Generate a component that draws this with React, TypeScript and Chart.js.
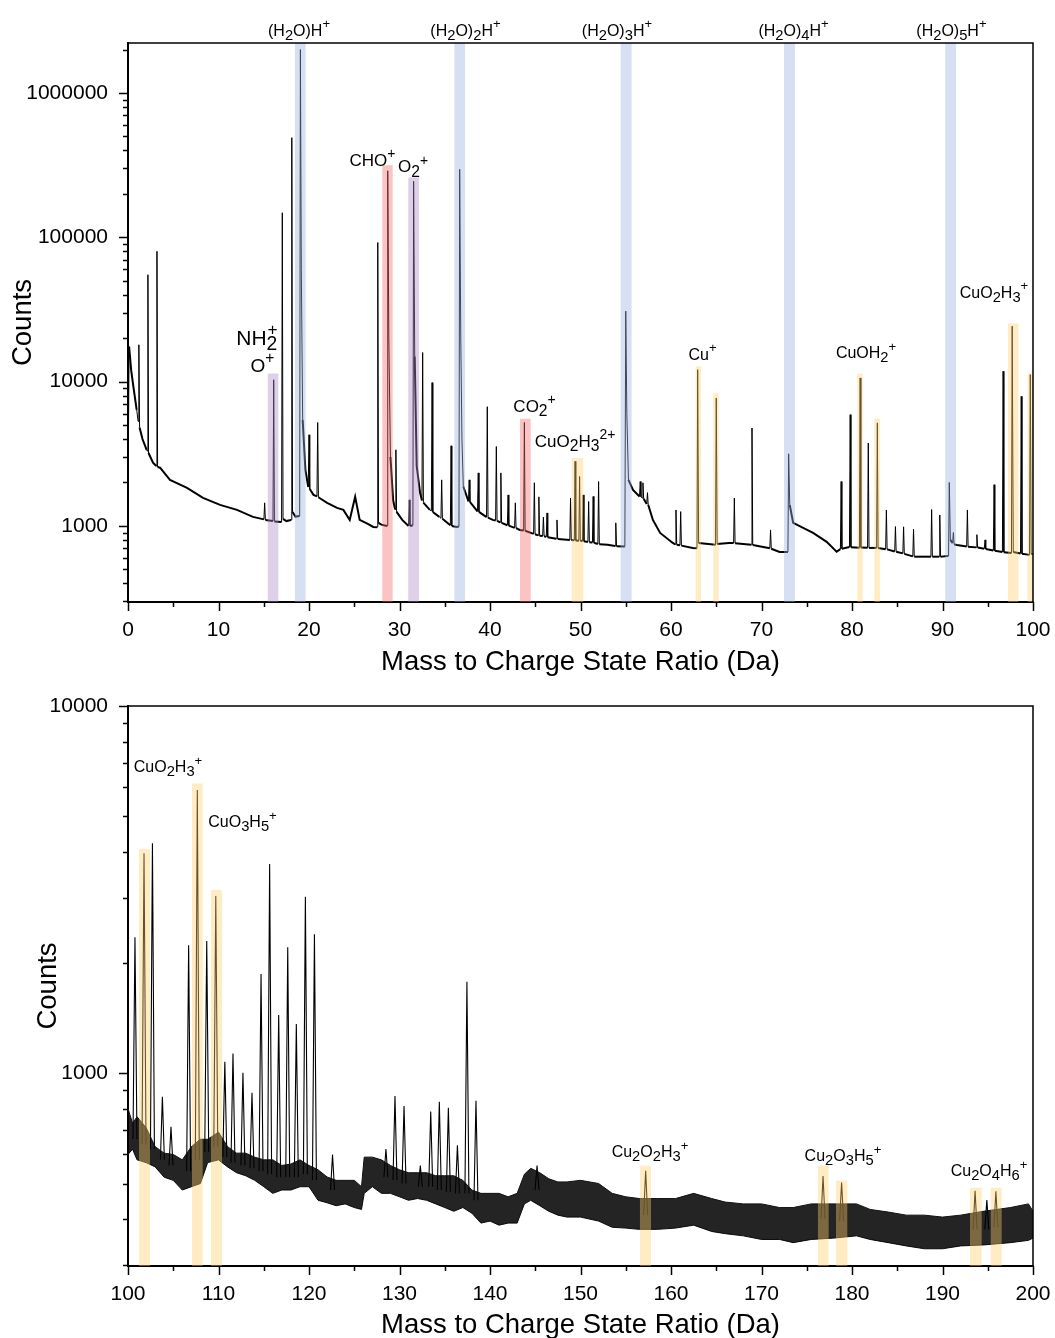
import React, { useEffect, useRef } from 'react';
import { Chart, registerables } from 'chart.js';

Chart.register(...registerables);

const FONT = "'Liberation Sans', Arial, Helvetica, sans-serif";
Chart.defaults.font.family = FONT;
Chart.defaults.color = '#000';

// ---------------- DATA ----------------
// Upper spectrum 0-100 Da: [m/z, counts]
const topSpectrum: [number, number][] = [
  [0.0, 1450], [0.12, 17500], [0.35, 12000], [0.59, 9270], [0.96, 6380],
  [1.12, 5300], [1.2, 18000], [1.28, 4800], [1.6, 4000], [2.06, 3370],
  [2.13, 3300], [2.2, 55000], [2.27, 3200], [2.76, 2740], [3.13, 2600],
  [3.2, 80000], [3.27, 2560], [3.54, 2530], [4.64, 2085], [6.52, 1835],
  [8.29, 1564], [10.17, 1399], [12.04, 1291], [13.81, 1155], [15.02, 1110],
  [15.1, 1445], [15.18, 1100], [16.02, 1080], [16.1, 10300], [16.18, 1075],
  [16.97, 1066], [17.05, 148000], [17.13, 1120], [17.5, 1080], [18.02, 1100],
  [18.1, 490000], [18.18, 1250], [18.5, 1160], [18.97, 1170], [19.05, 2000000],
  [19.15, 60000], [19.3, 5440], [19.6, 2448], [19.92, 1860], [20.0, 4280],
  [20.08, 1800], [20.5, 1640], [20.88, 1600], [20.96, 5210], [21.04, 1580],
  [22.0, 1445], [23.1, 1333], [23.8, 1291], [24.5, 1100], [25.1, 1590],
  [25.6, 1100], [26.5, 1033], [27.1, 984], [27.52, 980], [27.6, 92000],
  [27.68, 1050], [28.0, 1020], [28.62, 1000], [28.7, 289000], [28.82, 20000],
  [29.0, 3000], [29.3, 1500], [29.52, 1300], [29.6, 3370], [29.68, 1250],
  [30.3, 1100], [31.0, 1000], [31.08, 1516], [31.16, 1000], [31.48, 1010],
  [31.56, 245000], [31.68, 15000], [31.9, 2600], [32.27, 1700], [32.48, 1500],
  [32.56, 15900], [32.64, 1450], [33.35, 1291], [33.52, 1270], [33.6, 9840],
  [33.68, 1250], [34.4, 1155], [34.58, 1130], [34.66, 2085], [34.74, 1120],
  [35.62, 1010], [35.7, 3590], [35.78, 1000], [36.3, 984], [36.57, 990],
  [36.65, 296000], [36.77, 20000], [36.9, 4000], [37.05, 1875], [37.62, 1480],
  [37.7, 2085], [37.78, 1470], [38.62, 1260], [38.7, 2330], [38.78, 1250],
  [39.62, 1150], [39.7, 6700], [39.78, 1140], [40.3, 1101], [40.62, 1090],
  [40.7, 3550], [40.78, 1085], [41.12, 1060], [41.2, 2330], [41.28, 1050],
  [41.92, 1010], [42.0, 1640], [42.08, 1005], [42.72, 970], [42.8, 1445],
  [42.88, 965], [43.3, 938], [43.72, 930], [43.8, 5210], [43.88, 925],
  [44.82, 880], [44.9, 1990], [44.98, 875], [45.32, 860], [45.4, 1590],
  [45.48, 855], [45.82, 850], [45.9, 1150], [45.98, 848], [46.22, 840],
  [46.3, 1230], [46.38, 835], [47.32, 815], [47.4, 1100], [47.48, 812],
  [48.82, 800], [48.9, 1560], [48.98, 798], [49.32, 795], [49.4, 2800],
  [49.48, 792], [49.82, 790], [49.9, 2200], [49.98, 788], [50.22, 785],
  [50.3, 1640], [50.38, 782], [50.82, 775], [50.9, 1475], [50.98, 772],
  [51.32, 768], [51.4, 1600], [51.48, 765], [51.92, 750], [52.0, 2030],
  [52.08, 745], [53.0, 740], [53.82, 725], [53.9, 1050], [53.98, 722],
  [54.9, 720], [55.0, 30800], [55.12, 6000], [55.3, 2085], [55.8, 1778],
  [56.52, 1600], [56.6, 2030], [56.68, 1590], [56.82, 1560], [56.9, 1990],
  [56.98, 1540], [57.32, 1420], [57.4, 1700], [57.48, 1400], [58.0, 1100],
  [58.8, 894], [60.2, 762], [60.47, 745], [60.55, 1290], [60.63, 740],
  [60.99, 735], [61.07, 1256], [61.15, 730], [62.4, 704], [62.87, 700],
  [62.95, 12100], [63.05, 760], [64.92, 740], [65.0, 7700], [65.1, 750],
  [66.4, 762], [66.92, 760], [67.0, 1560], [67.08, 758], [68.87, 740],
  [68.95, 4770], [69.03, 738], [70.92, 700], [71.0, 938], [71.08, 695],
  [72.0, 660], [72.92, 660], [73.0, 3160], [73.12, 1400], [73.5, 1050],
  [75.7, 894], [77.2, 775], [78.3, 663], [78.72, 690], [78.8, 2030],
  [78.88, 695], [79.72, 715], [79.8, 5900], [79.88, 712], [80.82, 705],
  [80.9, 10600], [80.98, 710], [81.72, 705], [81.8, 3750], [81.88, 704],
  [82.72, 704], [82.8, 5180], [82.88, 704], [83.72, 690], [83.8, 1290],
  [83.88, 688], [84.72, 665], [84.8, 990], [84.88, 662], [85.62, 645],
  [85.7, 985], [85.78, 640], [86.72, 615], [86.8, 950], [86.88, 612],
  [88.72, 612], [88.8, 1300], [88.88, 612], [89.62, 612], [89.7, 1190],
  [89.78, 612], [90.67, 620], [90.75, 2000], [90.87, 800], [91.12, 760],
  [91.2, 900], [91.28, 745], [91.6, 738], [92.67, 720], [92.75, 1290],
  [92.83, 718], [93.72, 710], [93.8, 870], [93.88, 708], [94.62, 695],
  [94.7, 800], [94.78, 692], [95.62, 675], [95.7, 1930], [95.78, 672],
  [96.62, 660], [96.7, 11800], [96.78, 658], [97.62, 648], [97.7, 24200],
  [97.82, 660], [98.62, 645], [98.7, 7900], [98.78, 642], [99.62, 630],
  [99.7, 11200], [99.8, 640], [100.0, 640],
];

// Lower spectrum 100-200 Da: noise envelope [m/z, low, high]
const bottomNoise: [number, number, number][] = [
  [100.0, 600, 800], [100.5, 620, 730], [101.0, 580, 760], [102.0, 570, 710],
  [103.0, 555, 630], [104.0, 520, 605], [105.0, 510, 600], [106.0, 480, 580],
  [107.0, 490, 630], [108.0, 500, 660], [108.8, 570, 660], [110.0, 580, 690],
  [111.0, 555, 630], [112.0, 535, 605], [113.0, 525, 605], [114.0, 510, 590],
  [115.0, 490, 580], [116.0, 470, 580], [117.0, 480, 560], [118.0, 480, 565],
  [119.0, 490, 580], [120.0, 490, 560], [121.0, 450, 545], [122.0, 443, 521],
  [123.0, 435, 510], [124.0, 440, 510], [125.0, 430, 510], [125.8, 425, 490],
  [126.1, 470, 590], [127.0, 490, 590], [128.0, 470, 580], [129.0, 470, 560],
  [130.0, 460, 545], [131.0, 450, 535], [132.0, 455, 535], [133.0, 450, 535],
  [134.0, 440, 525], [135.0, 430, 525], [136.0, 420, 525], [137.0, 430, 510],
  [138.0, 415, 480], [139.0, 390, 470], [140.0, 395, 470], [141.0, 385, 470],
  [142.0, 390, 460], [143.0, 390, 470], [143.8, 440, 530], [144.5, 450, 550],
  [145.5, 435, 535], [146.5, 420, 515], [147.5, 410, 505], [148.5, 405, 505],
  [150.0, 405, 510], [152.0, 395, 500], [153.5, 380, 470], [155.0, 378, 460],
  [156.5, 375, 455], [158.5, 375, 455], [160.5, 378, 455], [162.5, 385, 470],
  [164.5, 370, 455], [166.0, 365, 445], [168.0, 360, 440], [170.0, 352, 440],
  [172.0, 352, 430], [173.5, 345, 430], [175.5, 352, 440], [178.0, 355, 440],
  [180.5, 360, 440], [182.0, 352, 425], [184.0, 345, 418], [186.0, 338, 410],
  [188.0, 332, 410], [190.0, 332, 405], [192.0, 338, 410], [194.5, 340, 420],
  [197.5, 345, 430], [199.5, 350, 440], [200.0, 355, 420],
];

// Lower spectrum peaks: [m/z, apex counts, base counts]
const bottomPeaks: [number, number, number][] = [
  [100.77, 2345, 660], [101.77, 3970, 640], [102.7, 4230, 620], [103.8, 862, 580],
  [104.75, 714, 560], [106.7, 2230, 540], [107.66, 5900, 580], [108.7, 2290, 610],
  [109.7, 3035, 630], [110.7, 1073, 590], [111.6, 1131, 570], [112.7, 1002, 560],
  [113.7, 884, 550], [114.7, 1860, 540], [115.65, 3710, 530], [116.65, 1440, 520],
  [117.65, 2200, 520], [118.6, 1360, 520], [119.6, 3020, 530], [120.6, 2390, 510],
  [122.6, 600, 480], [128.5, 621, 520], [129.5, 866, 510], [130.5, 813, 500],
  [132.3, 560, 490], [133.45, 785, 490], [134.4, 835, 480], [135.4, 804, 475],
  [136.4, 636, 470], [137.45, 1774, 470], [138.45, 840, 450], [145.2, 560, 480],
  [157.2, 542, 410], [176.8, 524, 400], [178.85, 503, 395], [193.6, 478, 375],
  [194.9, 451, 375], [195.9, 476, 380],
];

// Highlight bands: [start m/z, end m/z, top counts (null = full height), ion family]
type Band = [number, number, number | null, string];
const topBands: Band[] = [
  [15.44, 16.61, 11370, 'oxygen'],
  [18.45, 19.63, null, 'water'],
  [28.1, 29.25, 316000, 'carbon'],
  [30.97, 32.15, 260000, 'oxygen'],
  [36.06, 37.24, null, 'water'],
  [43.31, 44.5, 5530, 'carbon'],
  [49.03, 50.31, 2950, 'copper'],
  [54.44, 55.65, null, 'water'],
  [62.73, 63.31, 12770, 'copper'],
  [64.67, 65.27, 8320, 'copper'],
  [72.49, 73.7, null, 'water'],
  [80.59, 81.18, 11370, 'copper'],
  [82.47, 83.09, 5530, 'copper'],
  [90.3, 91.5, null, 'water'],
  [97.24, 98.38, 25300, 'copper'],
  [99.41, 100.0, 11370, 'copper'],
];
const bottomBands: Band[] = [
  [101.22, 102.43, 4075, 'copper'],
  [107.07, 108.25, 6150, 'copper'],
  [109.17, 110.39, 3153, 'copper'],
  [156.57, 157.79, 559, 'copper'],
  [176.24, 177.42, 559, 'copper'],
  [178.23, 179.48, 509, 'copper'],
  [193.04, 194.33, 487, 'copper'],
  [195.33, 196.54, 487, 'copper'],
];

// Ion labels: [text (_ = subscript, ^ = superscript), m/z centre, counts centre, font px, stacked]
type Label = [string, number, number, number, boolean];
const topLabels: Label[] = [
  ['(H_2O)H^+', 18.9, 2740000, 16, false],
  ['(H_2O)_2H^+', 37.29, 2740000, 16, false],
  ['(H_2O)_3H^+', 54.03, 2740000, 16, false],
  ['(H_2O)_4H^+', 73.54, 2740000, 16, false],
  ['(H_2O)_5H^+', 90.99, 2740000, 16, false],
  ['CHO^+', 27.0, 344000, 17, false],
  ['O_2^+', 31.5, 310000, 17, false],
  ['NH_2^+', 14.25, 20250, 21, true],
  ['O^+', 14.86, 13050, 19, false],
  ['CO_2^+', 44.92, 6790, 17, false],
  ['CuO_2H_3^{2+}', 49.4, 3880, 17, false],
  ['Cu^+', 63.48, 15560, 16, false],
  ['CuOH_2^+', 81.55, 15970, 16, false],
  ['CuO_2H_3^+', 95.69, 41850, 16, false],
];
const bottomLabels: Label[] = [
  ['CuO_2H_3^+', 104.42, 6863, 16, false],
  ['CuO_3H_5^+', 112.65, 4844, 16, false],
  ['Cu_2O_2H_3^+', 157.68, 611, 16, false],
  ['Cu_2O_3H_5^+', 179.0, 598, 16, false],
  ['Cu_2O_4H_6^+', 195.14, 544, 16, false],
];

const topYMajor = [1000, 10000, 100000, 1000000];
const bottomYMajor = [1000, 10000];

// ---------------- STYLE ----------------
const BAND_COLORS: Record<string, string> = {
  water: 'rgba(153,178,223,0.4)',
  copper: 'rgba(255,208,108,0.4)',
  carbon: 'rgba(243,108,108,0.4)',
  oxygen: 'rgba(173,138,198,0.4)',
};

type Seg = { t: string; k: 'n' | 'sub' | 'sup' };
function parseRich(s: string): Seg[] {
  const segs: Seg[] = [];
  let i = 0;
  while (i < s.length) {
    const ch = s[i];
    if (ch === '_' || ch === '^') {
      let t: string;
      if (s[i + 1] === '{') {
        const j = s.indexOf('}', i);
        t = s.slice(i + 2, j);
        i = j + 1;
      } else {
        t = s[i + 1];
        i += 2;
      }
      segs.push({ t, k: ch === '_' ? 'sub' : 'sup' });
    } else {
      let j = i;
      while (j < s.length && s[j] !== '_' && s[j] !== '^') j++;
      segs.push({ t: s.slice(i, j), k: 'n' });
      i = j;
    }
  }
  return segs;
}

function drawRich(ctx: CanvasRenderingContext2D, s: string, cx: number, cy: number, size: number, stack: boolean) {
  const segs = parseRich(s);
  const sizes = segs.map((g) => (g.k === 'n' ? size : g.k === 'sub' ? size * 0.92 : size * 0.82));
  const widths = segs.map((g, i) => {
    ctx.font = `${sizes[i]}px ${FONT}`;
    return ctx.measureText(g.t).width;
  });
  const xs: number[] = [];
  let x = 0;
  segs.forEach((g, i) => {
    if (stack && g.k === 'sup' && i > 0 && segs[i - 1].k === 'sub') {
      xs.push(xs[i - 1] + 1);
      x = Math.max(x, xs[i - 1] + 1 + widths[i]);
    } else {
      xs.push(x);
      x += widths[i];
    }
  });
  const x0 = cx - x / 2;
  const baseY = cy + 0.358 * size;
  ctx.fillStyle = '#000';
  ctx.textAlign = 'left';
  ctx.textBaseline = 'alphabetic';
  segs.forEach((g, i) => {
    ctx.font = `${sizes[i]}px ${FONT}`;
    const dy = g.k === 'sub' ? 0.26 * size : g.k === 'sup' ? -0.45 * size : 0;
    ctx.fillText(g.t, x0 + xs[i], baseY + dy);
  });
}

type Spec = {
  width: number;
  height: number;
  xMin: number;
  xMax: number;
  yMin: number;
  yMax: number;
  yMajor: number[];
  padTop: number;
  xAxisHeight: number;
  countsPad: number;
  xTitlePad: number;
  datasets: any[];
  bands: Band[];
  labels: Label[];
};

function makeDecor(spec: Spec) {
  return {
    id: 'decor',
    afterDatasetsDraw(chart: any) {
      const { ctx, chartArea: a } = chart;
      const xs = chart.scales.x;
      const ys = chart.scales.y;
      ctx.save();
      ctx.beginPath();
      ctx.rect(a.left, a.top, a.right - a.left, a.bottom - a.top);
      ctx.clip();
      spec.bands.forEach(([m0, m1, top, kind]) => {
        const x0 = xs.getPixelForValue(m0);
        const x1 = xs.getPixelForValue(m1);
        const yt = top == null ? a.top : ys.getPixelForValue(top);
        ctx.fillStyle = BAND_COLORS[kind];
        ctx.fillRect(x0, yt, x1 - x0, a.bottom - yt);
      });
      ctx.restore();
      ctx.save();
      spec.labels.forEach(([text, m, c, size, stack]) => {
        drawRich(ctx, text, xs.getPixelForValue(m), ys.getPixelForValue(c), size, stack);
      });
      ctx.restore();
    },
    afterDraw(chart: any) {
      const { ctx, chartArea: a } = chart;
      const xs = chart.scales.x;
      const ys = chart.scales.y;
      ctx.save();
      ctx.strokeStyle = '#000';
      ctx.lineWidth = 1.5;
      ctx.beginPath();
      ctx.moveTo(a.left, a.top);
      ctx.lineTo(a.right, a.top);
      ctx.lineTo(a.right, a.bottom);
      const d0 = Math.floor(Math.log10(spec.yMin));
      const d1 = Math.ceil(Math.log10(spec.yMax));
      for (let d = d0; d <= d1; d++) {
        for (let k = 1; k <= 9; k++) {
          const v = k * Math.pow(10, d);
          if (v < spec.yMin || v > spec.yMax) continue;
          const py = Math.round(ys.getPixelForValue(v)) + 0.5;
          const len = k === 1 ? 9 : 5;
          ctx.moveTo(a.left - len, py);
          ctx.lineTo(a.left, py);
        }
      }
      for (let v = spec.xMin; v <= spec.xMax + 1e-6; v += 5) {
        const px = Math.round(xs.getPixelForValue(v)) + 0.5;
        const len = Math.round(v) % 10 === 0 ? 9 : 5;
        ctx.moveTo(px, a.bottom);
        ctx.lineTo(px, a.bottom + len);
      }
      ctx.stroke();
      ctx.restore();
    },
  };
}

function SpectrumChart({ spec, top }: { spec: Spec; top: number }) {
  const ref = useRef<HTMLCanvasElement>(null);
  useEffect(() => {
    const chart = new Chart(ref.current as HTMLCanvasElement, {
      type: 'line',
      data: { datasets: spec.datasets },
      options: {
        responsive: false,
        maintainAspectRatio: false,
        animation: false,
        devicePixelRatio: 1,
        layout: { padding: { top: spec.padTop, right: 22, left: 0, bottom: 0 } },
        plugins: { legend: { display: false }, tooltip: { enabled: false } },
        elements: { point: { radius: 0 }, line: { tension: 0 } },
        scales: {
          x: {
            type: 'linear',
            min: spec.xMin,
            max: spec.xMax,
            grid: { display: false, drawTicks: false },
            border: { display: true, color: '#000', width: 2 },
            ticks: {
              stepSize: 10,
              autoSkip: false,
              maxRotation: 0,
              padding: 16,
              color: '#000',
              font: { size: 21, family: FONT },
              callback: (v: any) => String(v),
            },
            title: {
              display: true,
              text: 'Mass to Charge State Ratio (Da)',
              color: '#000',
              font: { size: 27.5, family: FONT },
              padding: { top: 0, bottom: spec.xTitlePad },
            },
            afterFit: (s: any) => {
              s.height = spec.xAxisHeight;
              s.paddingLeft = 0;
              s.paddingRight = 0;
              s.paddingTop = 0;
              s.paddingBottom = 0;
            },
          },
          y: {
            type: 'logarithmic',
            min: spec.yMin,
            max: spec.yMax,
            grid: { display: false, drawTicks: false },
            border: { display: true, color: '#000', width: 2 },
            ticks: {
              autoSkip: false,
              padding: 20,
              color: '#000',
              font: { size: 21, family: FONT },
              callback: (v: any) => String(v),
            },
            afterBuildTicks: (s: any) => {
              s.ticks = spec.yMajor.map((v) => ({ value: v, major: true }));
            },
            title: {
              display: true,
              text: 'Counts',
              color: '#000',
              font: { size: 27.5, family: FONT },
              padding: { top: spec.countsPad, bottom: 0 },
            },
            afterFit: (s: any) => {
              s.width = 128;
              s.paddingLeft = 0;
              s.paddingRight = 0;
              s.paddingTop = 0;
              s.paddingBottom = 0;
            },
          },
        },
      } as any,
      plugins: [makeDecor(spec)],
    });
    return () => chart.destroy();
  }, []);
  return (
    <canvas
      ref={ref}
      width={spec.width}
      height={spec.height}
      style={{ position: 'absolute', left: 0, top, width: spec.width, height: spec.height, display: 'block' }}
    />
  );
}

// thin line for the steep peak flanks, thicker (noisy-looking) line for the baseline
const thinPeakLegs = (ctx: any) =>
  Math.abs(ctx.p1.parsed.x - ctx.p0.parsed.x) < 0.2 ? 1 : 2;

const topSpec: Spec = {
  width: 1055,
  height: 680,
  xMin: 0,
  xMax: 100,
  yMin: 297,
  yMax: 2220000,
  yMajor: topYMajor,
  padTop: 43,
  xAxisHeight: 78,
  countsPad: 7,
  xTitlePad: 1,
  datasets: [
    {
      data: topSpectrum.map(([x, y]) => ({ x, y })),
      borderColor: '#000',
      borderWidth: 1.5,
      segment: { borderWidth: thinPeakLegs },
      pointRadius: 0,
      fill: false,
    },
  ],
  bands: topBands,
  labels: topLabels,
};

const bottomSpec: Spec = {
  width: 1055,
  height: 662,
  xMin: 100,
  xMax: 200,
  yMin: 298,
  yMax: 10000,
  yMajor: bottomYMajor,
  padTop: 26,
  xAxisHeight: 76,
  countsPad: 32,
  xTitlePad: 0,
  datasets: [
    {
      data: bottomNoise.map(([x, , hi]) => ({ x, y: hi })),
      borderColor: '#111',
      borderWidth: 1,
      backgroundColor: 'rgba(0,0,0,0.86)',
      pointRadius: 0,
      fill: '+1',
    },
    {
      data: bottomNoise.map(([x, lo]) => ({ x, y: lo })),
      borderColor: '#111',
      borderWidth: 1,
      pointRadius: 0,
      fill: false,
    },
    {
      data: bottomPeaks.flatMap(([m, apex, base]) => [
        { x: m - 0.22, y: base },
        { x: m, y: apex },
        { x: m + 0.22, y: base },
        { x: m + 0.23, y: null },
      ]),
      borderColor: '#000',
      borderWidth: 1.1,
      pointRadius: 0,
      fill: false,
      spanGaps: false,
    },
  ],
  bands: bottomBands,
  labels: bottomLabels,
};

export default function App() {
  return (
    <div
      style={{
        position: 'absolute',
        left: 0,
        top: 0,
        width: 1055,
        height: 1338,
        overflow: 'hidden',
        background: '#fff',
      }}
    >
      <SpectrumChart spec={topSpec} top={0} />
      <SpectrumChart spec={bottomSpec} top={680} />
    </div>
  );
}
